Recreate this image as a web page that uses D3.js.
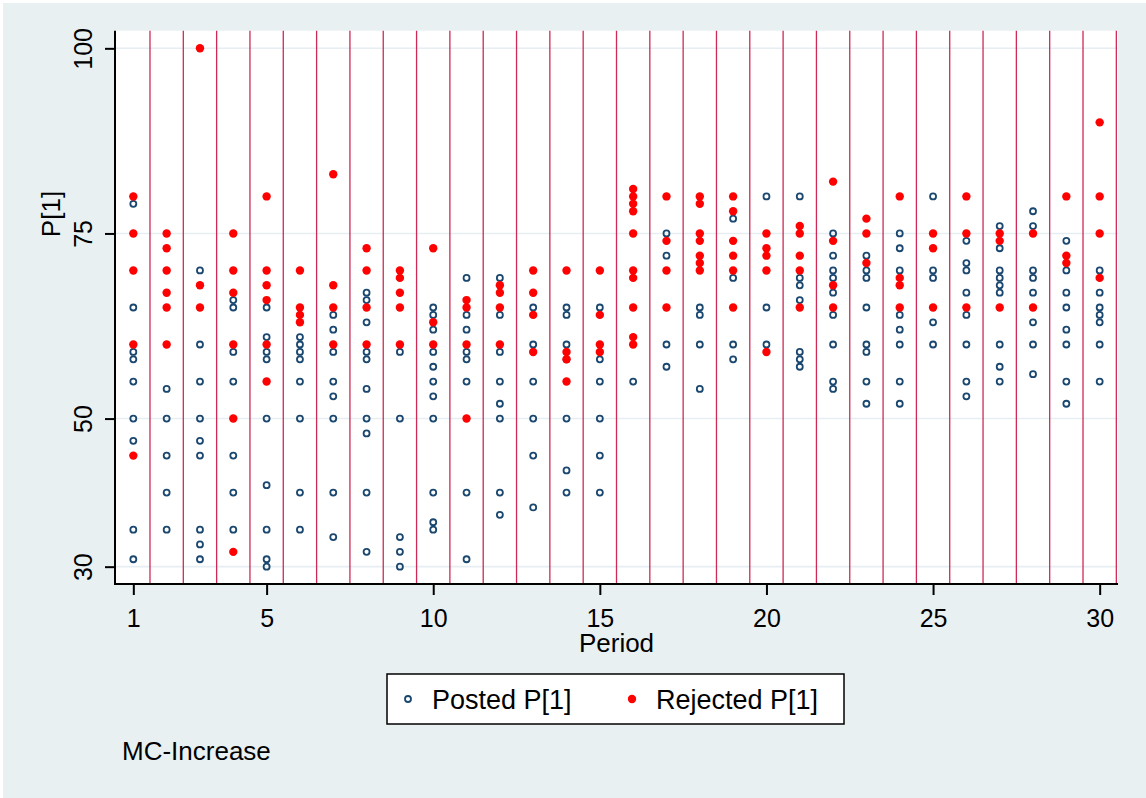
<!DOCTYPE html>
<html>
<head>
<meta charset="utf-8">
<script src="https://cdn.jsdelivr.net/npm/d3@7"></script>
<style>
  body { margin: 0; background: #fff; }
  text { font-family: "Liberation Sans", Arial, sans-serif; fill: #000; }
</style>
</head>
<body>
<div id="chart"></div>
<script>
// values, one list per period
let periods = d3.range(1, 31);

let postedP1 = [
  [79, 65, 59, 58, 55, 50, 47, 35, 31],
  [54, 50, 45, 40, 35],
  [70, 60, 55, 50, 47, 45, 35, 33, 31],
  [66, 65, 59, 55, 45, 40, 35],
  [65, 61, 59, 58, 50, 41, 35, 31, 30],
  [61, 60, 59, 58, 55, 50, 40, 35],
  [64, 62, 59, 55, 53, 50, 40, 34],
  [67, 66, 63, 59, 58, 54, 50, 48, 40, 32],
  [59, 50, 34, 32, 30],
  [65, 64, 62, 59, 57, 55, 53, 50, 40, 36, 35],
  [69, 64, 62, 59, 58, 55, 40, 31],
  [69, 64, 59, 55, 52, 50, 40, 37],
  [65, 60, 55, 50, 45, 38],
  [65, 64, 60, 58, 50, 43, 40],
  [65, 58, 55, 50, 45, 40],
  [55],
  [75, 72, 60, 57],
  [65, 64, 60, 54],
  [77, 69, 60, 58],
  [80, 65, 60],
  [80, 69, 68, 66, 59, 58, 57],
  [75, 72, 70, 69, 67, 64, 60, 55, 54],
  [72, 70, 69, 65, 60, 59, 55, 52],
  [75, 73, 70, 64, 62, 60, 55, 52],
  [80, 70, 69, 63, 60],
  [74, 71, 70, 67, 64, 60, 55, 53],
  [76, 73, 70, 69, 68, 67, 60, 57, 55],
  [78, 76, 70, 69, 67, 63, 60, 56],
  [74, 70, 67, 65, 62, 60, 55, 52],
  [70, 67, 65, 64, 63, 60, 55]
];

let rejectedP1 = [
  [80, 75, 70, 60, 45],
  [75, 73, 70, 67, 65, 60],
  [100, 68, 65],
  [75, 70, 67, 60, 50, 32],
  [80, 70, 68, 66, 60, 55],
  [70, 65, 64, 63],
  [83, 68, 65, 60],
  [73, 70, 65, 60],
  [70, 69, 67, 65, 60],
  [73, 63, 60],
  [66, 65, 60, 50],
  [68, 67, 65, 60],
  [70, 67, 64, 59],
  [70, 59, 58, 55],
  [70, 64, 60, 59],
  [81, 80, 79, 78, 75, 70, 69, 65, 61, 60],
  [80, 74, 70, 65],
  [80, 79, 75, 74, 72, 71, 70],
  [80, 78, 74, 72, 70, 65],
  [75, 73, 72, 70, 59],
  [76, 75, 72, 70, 65],
  [82, 74, 68, 65],
  [77, 75, 71],
  [80, 69, 68, 65],
  [75, 73, 65],
  [80, 75, 65],
  [75, 74, 65],
  [75, 65],
  [80, 72, 71],
  [90, 80, 75, 69]
];

let xTicks = [1, 5, 10, 15, 20, 25, 30];
let yTicks = [30, 50, 75, 100];
let periodLines = d3.range(1.5, 31, 1);

let width = 1146, height = 798;
let plot = {left: 115, right: 1118, top: 30.7, bottom: 584};

let svg = d3.select("#chart")
    .append("svg")
    .attr("width", width)
    .attr("height", height);

// outer graph region
svg.append("rect")
    .attr("x", 3).attr("y", 3)
    .attr("width", width - 3).attr("height", height - 3)
    .attr("fill", "#e9f0f2");

svg.append("rect")
    .attr("x", plot.left).attr("y", plot.top)
    .attr("width", plot.right - plot.left)
    .attr("height", plot.bottom - plot.top)
    .attr("fill", "#fff");

let x = d3.scaleLinear().domain([0.45, 30.55]).range([plot.left, plot.right]);
let y = d3.scaleLinear().domain([27.66, 102.38]).range([plot.bottom, plot.top]);

function flatten(list) {
  let out = [];
  list.forEach(function(vals, i) {
    vals.forEach(function(v) { out.push({period: periods[i], value: v}); });
  });
  return out;
}

// grid
svg.append("g").selectAll("line")
    .data(yTicks)
    .enter().append("line")
    .attr("x1", plot.left).attr("x2", plot.right)
    .attr("y1", function(d) { return y(d); })
    .attr("y2", function(d) { return y(d); })
    .attr("stroke", "#e6eef1")
    .attr("stroke-width", 1.6);

// xline at each half period
svg.append("g").selectAll("line")
    .data(periodLines)
    .enter().append("line")
    .attr("x1", function(d) { return x(d); })
    .attr("x2", function(d) { return x(d); })
    .attr("y1", plot.top).attr("y2", plot.bottom)
    .attr("stroke", "#cf2a55")
    .attr("stroke-width", 1.3);

svg.append("g").selectAll("circle")
    .data(flatten(postedP1))
    .enter().append("circle")
    .attr("cx", function(d) { return x(d.period); })
    .attr("cy", function(d) { return y(d.value); })
    .attr("r", 3)
    .attr("fill", "none")
    .attr("stroke", "#1a476f")
    .attr("stroke-width", 1.8);

svg.append("g").selectAll("circle")
    .data(flatten(rejectedP1))
    .enter().append("circle")
    .attr("cx", function(d) { return x(d.period); })
    .attr("cy", function(d) { return y(d.value); })
    .attr("r", 4.2)
    .attr("fill", "#ff0000");

// axes
let yAxis = svg.append("g")
    .attr("transform", "translate(" + plot.left + ",0)")
    .call(d3.axisLeft(y).tickValues(yTicks).tickSize(10).tickSizeOuter(0));

let xAxis = svg.append("g")
    .attr("transform", "translate(0," + plot.bottom + ")")
    .call(d3.axisBottom(x).tickValues(xTicks).tickSize(11).tickSizeOuter(0));

[yAxis, xAxis].forEach(function(a) {
  a.select(".domain").attr("stroke", "#000").attr("stroke-width", 2);
  a.selectAll(".tick line").attr("stroke", "#000").attr("stroke-width", 2);
});
// stretch axis lines over the whole plot region
yAxis.select(".domain").attr("d", "M0," + plot.top + "V" + (plot.bottom + 1));
xAxis.select(".domain").attr("d", "M" + (plot.left - 1) + ",0H" + plot.right);

yAxis.selectAll(".tick text")
    .attr("x", 0).attr("y", -23).attr("dy", 0)
    .attr("transform", "rotate(-90)")
    .attr("text-anchor", "middle")
    .attr("font-size", 25)
    .attr("fill", "#000");

xAxis.selectAll(".tick text")
    .attr("y", 43).attr("dy", 0)
    .attr("font-size", 25)
    .attr("fill", "#000");

svg.append("text")
    .attr("x", (plot.left + plot.right) / 2)
    .attr("y", 652)
    .attr("text-anchor", "middle")
    .attr("font-size", 26)
    .text("Period");

svg.append("text")
    .attr("transform", "translate(60,214) rotate(-90)")
    .attr("text-anchor", "middle")
    .attr("font-size", 26)
    .text("P[1]");

// legend
let legend = svg.append("g");
legend.append("rect")
    .attr("x", 387).attr("y", 674)
    .attr("width", 457).attr("height", 50)
    .attr("fill", "#fff")
    .attr("stroke", "#000")
    .attr("stroke-width", 1.5);

legend.append("circle")
    .attr("cx", 408).attr("cy", 699).attr("r", 3)
    .attr("fill", "none").attr("stroke", "#1a476f").attr("stroke-width", 1.8);
legend.append("text")
    .attr("x", 432).attr("y", 709)
    .attr("font-size", 27)
    .text("Posted P[1]");

legend.append("circle")
    .attr("cx", 632).attr("cy", 699).attr("r", 4.2)
    .attr("fill", "#ff0000");
legend.append("text")
    .attr("x", 656).attr("y", 709)
    .attr("font-size", 27)
    .text("Rejected P[1]");

svg.append("text")
    .attr("x", 122).attr("y", 760)
    .attr("font-size", 26)
    .text("MC-Increase");
</script>
</body>
</html>
